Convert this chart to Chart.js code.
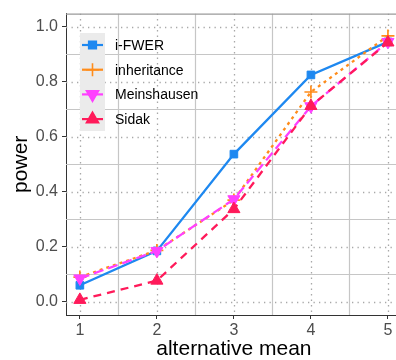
<!DOCTYPE html>
<html>
<head>
<meta charset="utf-8">
<script src="https://cdn.jsdelivr.net/npm/chart.js@4"></script>
<style>
  html,body{margin:0;padding:0;background:#fff;overflow:hidden}
  #wrap{width:410px;height:360px}
</style>
</head>
<body>
<div id="wrap"><canvas id="c" width="410" height="360"></canvas></div>
<script>
// power vs alternative mean
const means = [1, 2, 3, 4, 5];
const iFWER = [0.06, 0.185, 0.537, 0.825, 0.945];
const inheritance = [0.09, 0.187, 0.37, 0.763, 0.967];
const meinshausen = [0.085, 0.185, 0.373, 0.711, 0.945];
const sidak = [0.007, 0.077, 0.337, 0.712, 0.943];
const xTicks = [1, 2, 3, 4, 5];
const yTicks = [0, 0.2, 0.4, 0.6, 0.8, 1.0];
const xMinor = [1.5, 2.5, 3.5, 4.5];
const yMinor = [0.1, 0.3, 0.5, 0.7, 0.9];

const FONT = 'Liberation Sans, Arial, sans-serif';
const series = [
  {label:'i-FWER', data:iFWER, color:'#1E88F0', dash:[], style:'rect', r:5.4, rot:0, order:3},
  {label:'inheritance', data:inheritance, color:'#FF8C1A', dash:[3,4], style:'cross', r:6.5, rot:0, order:2},
  {label:'Meinshausen', data:meinshausen, color:'#FF40FF', dash:[10,5], style:'triangle', r:7, rot:180, order:1},
  {label:'Sidak', data:sidak, color:'#FF1A5A', dash:[8,6], style:'triangle', r:7, rot:0, order:0}
];

function pts(arr){ return means.map((x,i)=>({x, y:arr[i]})) }

// ggplot-ish panel: solid minor grid, dotted major grid, top border
const panel = {
  id:'panel',
  beforeDatasetsDraw(chart){
    const {ctx, chartArea:a, scales:{x, y}} = chart;
    ctx.save();
    ctx.beginPath(); ctx.rect(a.left, a.top, a.right-a.left, a.bottom-a.top); ctx.clip();
    ctx.strokeStyle = '#C6C6C6'; ctx.lineWidth = 1.2; ctx.setLineDash([]);
    xMinor.forEach(v=>{ const p = Math.round(x.getPixelForValue(v))+0.5; ctx.beginPath(); ctx.moveTo(p,a.top); ctx.lineTo(p,a.bottom); ctx.stroke(); });
    yMinor.forEach(v=>{ const p = Math.round(y.getPixelForValue(v))+0.5; ctx.beginPath(); ctx.moveTo(a.left,p); ctx.lineTo(a.right,p); ctx.stroke(); });
    ctx.strokeStyle = '#A8A8A8'; ctx.lineWidth = 1.3; ctx.setLineDash([1.3,4.2]);
    xTicks.forEach(v=>{ const p = Math.round(x.getPixelForValue(v))+0.5; ctx.beginPath(); ctx.moveTo(p,a.top); ctx.lineTo(p,a.bottom); ctx.stroke(); });
    yTicks.forEach(v=>{ const p = Math.round(y.getPixelForValue(v))+0.5; ctx.beginPath(); ctx.moveTo(a.left,p); ctx.lineTo(a.right,p); ctx.stroke(); });
    ctx.restore();
    ctx.save();
    ctx.strokeStyle = '#9A9A9A'; ctx.lineWidth = 1.2;
    ctx.beginPath(); ctx.moveTo(a.left, a.top+0.5); ctx.lineTo(a.right, a.top+0.5); ctx.stroke();
    ctx.restore();
  },
  afterDatasetsDraw(chart){
    // legend box inside the panel
    const {ctx} = chart;
    const bx = 80, by = 33, bw = 25, rowH = 24.7;
    ctx.save();
    ctx.fillStyle = '#EBEBEB';
    ctx.fillRect(bx, by, 25, 98);
    ctx.font = '14px ' + FONT;
    ctx.textBaseline = 'middle';
    series.forEach((s,i)=>{
      const cy = by + 12 + i*rowH;
      ctx.strokeStyle = s.color; ctx.fillStyle = s.color; ctx.lineWidth = 2.2; ctx.setLineDash([]);
      ctx.beginPath(); ctx.moveTo(bx+2, cy); ctx.lineTo(bx+bw-2, cy); ctx.stroke();
      ctx.lineWidth = 1.6;
      Chart.helpers.drawPoint(ctx, {pointStyle:s.style, radius:s.r, rotation:s.rot, borderWidth:1.6}, bx+bw/2, cy);
      if(s.style !== 'cross') ctx.fill();
      ctx.fillStyle = '#000';
      ctx.fillText(s.label, 115, cy+1);
    });
    ctx.restore();
  }
};

new Chart(document.getElementById('c'), {
  type:'line',
  data:{
    datasets: series.map(s=>({
      label:s.label, data:pts(s.data), order:s.order,
      borderColor:s.color, backgroundColor:s.color,
      borderWidth:2.3, borderDash:s.dash, tension:0,
      pointStyle:s.style, pointRadius:s.r, pointRotation:s.rot,
      pointBorderWidth: s.style==='cross' ? 1.7 : 1,
      pointBackgroundColor:s.color, pointBorderColor:s.color
    }))
  },
  options:{
    responsive:false, animation:false,
    layout:{padding:{top:10, right:7, left:0, bottom:0}},
    plugins:{legend:{display:false}, tooltip:{enabled:false}},
    scales:{
      x:{
        type:'linear', min:0.82, max:5.18,
        afterBuildTicks:s=>{ s.ticks = xTicks.map(v=>({value:v})) },
        afterFit:s=>{ s.height = 45 },
        grid:{drawOnChartArea:false, drawTicks:true, tickLength:4, tickColor:'#333', tickWidth:1},
        border:{display:true, color:'#333', width:1},
        ticks:{color:'#4D4D4D', font:{family:FONT, size:16}, padding:2, maxRotation:0},
        title:{display:true, text:'alternative mean', color:'#000', font:{family:FONT, size:21, lineHeight:1.0}, padding:{top:0, bottom:0}}
      },
      y:{
        type:'linear', min:-0.048, max:1.048,
        afterBuildTicks:s=>{ s.ticks = yTicks.map(v=>({value:v})) },
        afterFit:s=>{ s.width = 66 },
        grid:{drawOnChartArea:false, drawTicks:true, tickLength:4, tickColor:'#333', tickWidth:1},
        border:{display:true, color:'#333', width:1},
        ticks:{color:'#4D4D4D', font:{family:FONT, size:16}, padding:4, callback:v=>v.toFixed(1)},
        title:{display:true, text:'power', color:'#000', font:{family:FONT, size:21}, padding:{top:9, bottom:0}}
      }
    }
  },
  plugins:[panel]
});
</script>
</body>
</html>
